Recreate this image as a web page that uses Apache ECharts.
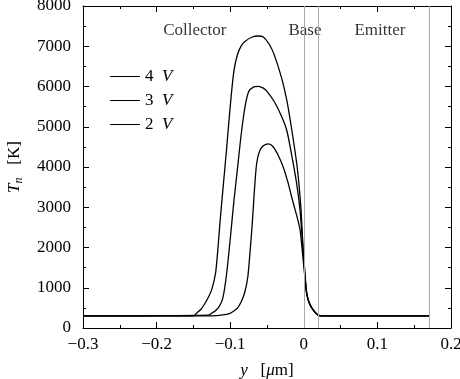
<!DOCTYPE html>
<html><head><meta charset="utf-8">
<script src="https://cdn.jsdelivr.net/npm/echarts@6/dist/echarts.min.js"></script>
<style>html,body{margin:0;padding:0;background:#fff}#c{width:460px;height:379px}</style>
</head><body><div id="c"></div>
<script>
// ---- data ----
const seriesNames = ['4 V', '3 V', '2 V'];
const x4V = [-0.3, -0.15, -0.145, -0.14, -0.135, -0.13, -0.125, -0.12, -0.117, -0.114, -0.11, -0.105, -0.1, -0.095, -0.09, -0.085, -0.08, -0.07, -0.062, -0.055, -0.047, -0.04, -0.03, -0.023, -0.017, -0.009, -0.004, -0.001, 0.003, 0.006, 0.011, 0.018, 0.023, 0.17];
const y4V = [300, 300, 380, 460, 590, 750, 960, 1350, 1900, 2600, 3420, 4430, 5500, 6380, 6800, 7010, 7120, 7230, 7255, 7230, 7050, 6780, 6200, 5650, 5000, 4000, 3000, 2000, 1000, 700, 500, 340, 300, 300];
const x3V = [-0.3, -0.13, -0.125, -0.12, -0.115, -0.11, -0.105, -0.1, -0.095, -0.09, -0.085, -0.08, -0.075, -0.068, -0.062, -0.055, -0.05, -0.04, -0.03, -0.023, -0.015, -0.009, -0.005, -0.002, 0.001, 0.004, 0.008, 0.012, 0.018, 0.023, 0.17];
const y3V = [300, 320, 370, 430, 530, 740, 1330, 2200, 3150, 3980, 4820, 5480, 5870, 5990, 6005, 5960, 5880, 5620, 5250, 4900, 4150, 3500, 2900, 2200, 1500, 850, 600, 470, 340, 300, 300];
const x2V = [-0.3, -0.13, -0.115, -0.105, -0.1, -0.095, -0.09, -0.085, -0.08, -0.076, -0.073, -0.07, -0.067, -0.064, -0.06, -0.055, -0.048, -0.042, -0.035, -0.028, -0.022, -0.015, -0.009, -0.005, -0.002, 0.001, 0.004, 0.008, 0.012, 0.018, 0.023, 0.17];
const y2V = [300, 300, 315, 340, 365, 420, 500, 650, 900, 1280, 1900, 2600, 3450, 4100, 4400, 4530, 4575, 4510, 4300, 4000, 3650, 3150, 2750, 2430, 1900, 1350, 830, 590, 460, 335, 300, 300];
const regionLines = [0, 0.0183, 0.17];
const regionLabels = ['Collector', 'Base', 'Emitter'];
const regionLabelX = [-0.148, 0.0016, 0.1035];
const regionLabelY = 7380;

const FONT = '"Liberation Serif", "DejaVu Serif", serif';
const chart = echarts.init(document.getElementById('c'), null, {renderer: 'canvas'});

function pairs(xs, ys) { return xs.map((x, i) => [x, ys[i]]); }
function fmtX(v) {
  if (Math.abs(v) < 1e-9) return '0';
  return (v < 0 ? '\u2212' : '') + Math.abs(v).toFixed(1);
}
const seriesData = [pairs(x4V, y4V), pairs(x3V, y3V), pairs(x2V, y2V)];

function axisCommon() {
  return {
    axisLine: {show: true, onZero: false, lineStyle: {color: '#000', width: 1}},
    axisTick: {show: true, inside: true, length: 6, lineStyle: {color: '#000'}},
    minorTick: {show: true, splitNumber: 2, length: 3, lineStyle: {color: '#000'}},
    splitLine: {show: false}
  };
}

const series = seriesNames.map((n, i) => ({
  name: n, type: 'line', data: seriesData[i], showSymbol: false, symbol: 'none',
  smooth: 0.25,
  lineStyle: {color: '#000', width: 1.3}, itemStyle: {color: '#000'},
  xAxisIndex: 0, yAxisIndex: 0, z: 3
}));
series.push({
  name: 'regions', type: 'line', data: [], xAxisIndex: 0, yAxisIndex: 0,
  markLine: {silent: true, symbol: 'none', label: {show: false},
    lineStyle: {color: '#aaaaaa', width: 1, type: 'solid'},
    data: regionLines.map(v => ({xAxis: v}))}
});
series.push({
  name: 'labels', type: 'scatter', symbolSize: 0, xAxisIndex: 0, yAxisIndex: 0,
  data: regionLabels.map((t, i) => ({name: t, value: [regionLabelX[i], regionLabelY]})),
  label: {show: true, position: 'inside', formatter: p => p.name,
    fontFamily: FONT, fontSize: 17, color: '#000'}
});

chart.setOption({
  animation: false,
  textStyle: {fontFamily: FONT},
  grid: {left: 83, right: 9, top: 6, bottom: 51, containLabel: false, outerBoundsMode: 'none'},
  legend: {
    data: seriesNames, orient: 'vertical', left: 110, top: 68, padding: 0,
    itemWidth: 30, itemHeight: 14, itemGap: 7,
    icon: 'path://M0,7 L30,7 L30,8 L0,8 Z',
    textStyle: {fontFamily: FONT, fontSize: 17, color: '#000',
      rich: {n: {fontFamily: FONT, fontSize: 17}, v: {fontFamily: FONT, fontSize: 17, fontStyle: 'italic'}}},
    formatter: n => '{n|' + n.split(' ')[0] + '  }{v|V}'
  },
  xAxis: [
    Object.assign(axisCommon(), {
      type: 'value', min: -0.3, max: 0.2, interval: 0.1, position: 'bottom',
      axisLabel: {formatter: fmtX, fontFamily: FONT, fontSize: 17, color: '#000', margin: 8},
      name: '{i|y}   [{i|\u03bc}m]', nameLocation: 'middle', nameGap: 34,
      nameTextStyle: {fontFamily: FONT, fontSize: 17, color: '#000',
        rich: {i: {fontFamily: FONT, fontSize: 17, fontStyle: 'italic'}}}
    }),
    Object.assign(axisCommon(), {
      type: 'value', min: -0.3, max: 0.2, interval: 0.1, position: 'top',
      axisLabel: {show: false}
    })
  ],
  yAxis: [
    Object.assign(axisCommon(), {
      type: 'value', min: 0, max: 8000, interval: 1000, position: 'left',
      axisLabel: {formatter: v => String(v), fontFamily: FONT, fontSize: 17, color: '#000', margin: 12},
      name: '{i|T}{s|n}   [K]', nameLocation: 'middle', nameGap: 58, nameRotate: 90,
      nameTextStyle: {fontFamily: FONT, fontSize: 17, color: '#000',
        rich: {i: {fontFamily: FONT, fontSize: 17, fontStyle: 'italic'},
               s: {fontFamily: FONT, fontSize: 12, fontStyle: 'italic', padding: [8, 0, 0, 0]}}}
    }),
    Object.assign(axisCommon(), {
      type: 'value', min: 0, max: 8000, interval: 1000, position: 'right',
      axisLabel: {show: false}
    })
  ],
  series: series
});
</script></body></html>
